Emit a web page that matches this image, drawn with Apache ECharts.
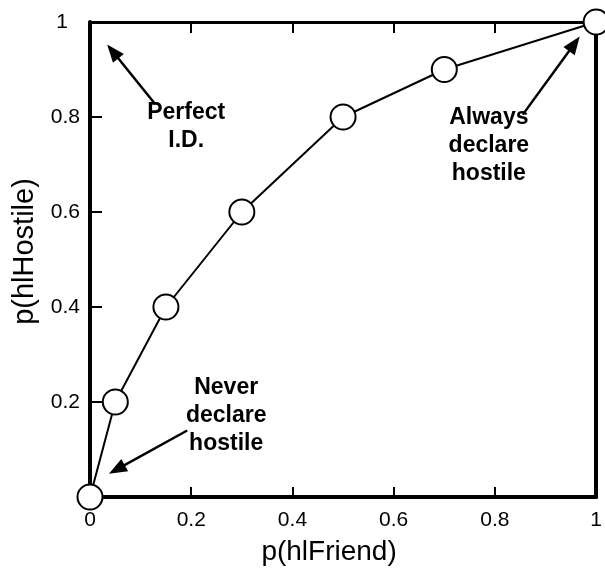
<!DOCTYPE html>
<html>
<head>
<meta charset="utf-8">
<script src="https://cdn.jsdelivr.net/npm/echarts@6/dist/echarts.min.js"></script>
<style>
  html, body { margin: 0; padding: 0; background: #fff; }
  #chart { width: 605px; height: 571px; }
</style>
</head>
<body>
<div id="chart"></div>
<script>
// ROC points: p(h|Friend) vs p(h|Hostile)
const pFriend = [0, 0.05, 0.15, 0.3, 0.5, 0.7, 1];
const pHostile = [0, 0.2, 0.4, 0.6, 0.8, 0.9, 1];
const tickValues = [0, 0.2, 0.4, 0.6, 0.8, 1];

// annotations (data coords)
const noteText = ['Perfect\nI.D.', 'Always\ndeclare\nhostile', 'Never\ndeclare\nhostile'];
const notePos = [[0.19, 0.78], [0.788, 0.739], [0.269, 0.171]];
const arrowFrom = [[0.129, 0.827], [0.855, 0.805], [0.192, 0.140]];
const arrowTo = [[0.045, 0.938], [0.957, 0.954], [0.053, 0.058]];

const font = 'Liberation Sans, Arial, Helvetica, sans-serif';
const fmt = v => (v === 0 ? '0' : v === 1 ? '1' : v.toFixed(1));
// y axis: no "0" label, "1" sits a bit further left
const fmtY = v => (v === 0 ? '' : v === 1 ? '{one|1}' : v.toFixed(1));

const chart = echarts.init(document.getElementById('chart'));

const points = pFriend.map((x, i) => [x, pHostile[i]]);

chart.setOption({
  backgroundColor: '#fff',
  animation: false,
  grid: { left: 90, right: 5, top: 22, bottom: 63 },
  xAxis: [
    {
      type: 'value', min: 0, max: 1, interval: 0.2, position: 'bottom',
      name: 'p(hlFriend)', nameLocation: 'middle', nameGap: 41,
      nameTextStyle: { fontFamily: font, fontSize: 28, color: '#000', padding: [0, 28, 0, 0] },
      axisLine: { show: true, onZero: false, lineStyle: { color: '#000', width: 4 } },
      axisTick: { show: true, inside: true, length: 10, lineStyle: { color: '#000', width: 2 } },
      axisLabel: { fontFamily: font, fontSize: 21, color: '#000', margin: 13, formatter: fmt },
      splitLine: { show: false }
    },
    {
      type: 'value', min: 0, max: 1, interval: 0.2, position: 'top',
      axisLine: { show: true, onZero: false, lineStyle: { color: '#000', width: 3 } },
      axisTick: { show: true, inside: true, length: 11, lineStyle: { color: '#000', width: 2 } },
      axisLabel: { show: false },
      splitLine: { show: false }
    }
  ],
  yAxis: [
    {
      type: 'value', min: 0, max: 1, interval: 0.2, position: 'left',
      name: 'p(hlHostile)', nameLocation: 'middle', nameGap: 42,
      nameTextStyle: { fontFamily: font, fontSize: 29, color: '#000', padding: [0, 0, 0, 16] },
      axisLine: { show: true, onZero: false, lineStyle: { color: '#000', width: 4 } },
      axisTick: { show: true, inside: true, length: 12, lineStyle: { color: '#000', width: 2 } },
      axisLabel: {
        fontFamily: font, fontSize: 21, color: '#000', margin: 10, formatter: fmtY,
        rich: { one: { fontFamily: font, fontSize: 21, color: '#000', padding: [0, 12, 0, 0] } }
      },
      splitLine: { show: false }
    },
    {
      type: 'value', min: 0, max: 1, interval: 0.2, position: 'right',
      axisLine: { show: true, onZero: false, lineStyle: { color: '#000', width: 4 } },
      axisTick: { show: false },
      axisLabel: { show: false },
      splitLine: { show: false }
    }
  ],
  series: [
    {
      type: 'line',
      data: points,
      clip: false,
      symbol: 'circle',
      symbolSize: 25,
      lineStyle: { color: '#000', width: 2 },
      itemStyle: { color: '#fff', borderColor: '#000', borderWidth: 2 },
      markLine: {
        silent: true,
        symbol: ['none', 'triangle'],
        symbolSize: [14, 18],
        label: { show: false },
        lineStyle: { color: '#000', width: 2.5, type: 'solid' },
        data: arrowFrom.map((f, i) => [{ coord: f }, { coord: arrowTo[i] }])
      },
      markPoint: {
        silent: true,
        symbol: 'rect',
        symbolSize: 0,
        itemStyle: { color: 'transparent' },
        label: {
          show: true, position: 'inside',
          fontFamily: font, fontSize: 23, fontWeight: 'bold', color: '#000',
          lineHeight: 28, align: 'center',
          formatter: p => p.name
        },
        data: noteText.map((t, i) => ({ name: t, coord: notePos[i] }))
      }
    }
  ]
});
</script>
</body>
</html>
